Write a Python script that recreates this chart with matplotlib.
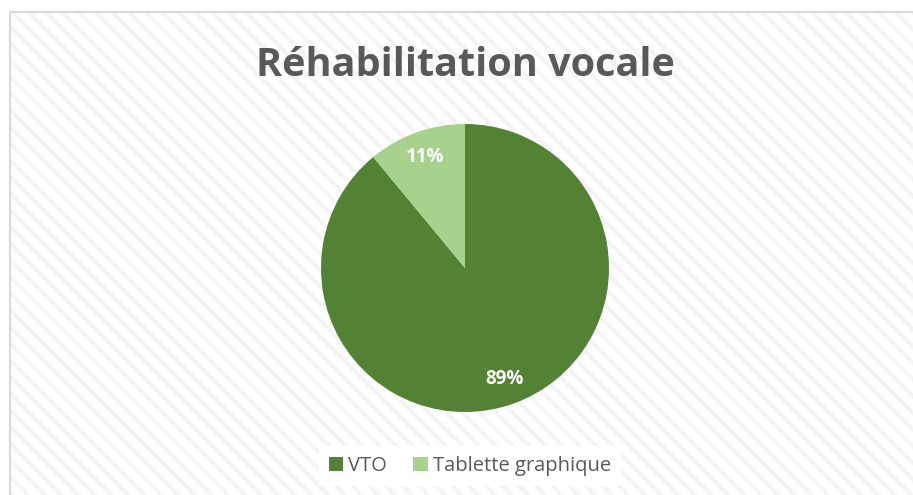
import matplotlib.pyplot as plt
from matplotlib.patches import Rectangle, Patch

labels = ["VTO", "Tablette graphique"]
values = [89, 11]
colors = ["#548235", "#A9D18E"]
title = "Réhabilitation vocale"

plt.rcParams['font.family'] = ['Open Sans', 'DejaVu Sans']
plt.rcParams['hatch.linewidth'] = 3

fig = plt.figure(figsize=(9.13, 4.95), dpi=100)
W, H = 913, 495

# fond hachuré + bordure
fig.patches.append(Rectangle((10 / W, 0), 1, 1 - 12 / H, transform=fig.transFigure,
                             facecolor="white", edgecolor="#F4F4F4", hatch="\\\\",
                             linewidth=0, zorder=-2))
fig.patches.append(Rectangle((10 / W, -0.1), 1, 1.1 - 12 / H, transform=fig.transFigure,
                             facecolor="none", edgecolor="#D9D9D9", linewidth=1.5, zorder=-1))

ax = fig.add_axes([(465 - 144) / W, (H - 268 - 144) / H, 288 / W, 288 / H])
ax.set_zorder(3)
ax.patch.set_visible(False)
wedges, texts, autotexts = ax.pie(values, colors=colors, startangle=90, counterclock=False,
                                  autopct="%d%%", pctdistance=0.82, radius=1,
                                  textprops=dict(color="white", fontsize=13.5, fontweight="bold"))
ax.set_xlim(-1, 1)
ax.set_ylim(-1, 1)
ax.set_aspect("equal")

fig.text(465 / W, 1 - 65 / H, title, ha="center", va="center", fontsize=28.5,
         fontweight="bold", color="#595959")

handles = [Patch(facecolor=c, edgecolor="none") for c in colors]
leg = fig.legend(handles, labels, loc="center", bbox_to_anchor=(470 / W, 1 - 466 / H),
                 ncol=2, frameon=True, fancybox=False, fontsize=14.5, handlelength=0.7,
                 handleheight=0.7, handletextpad=0.25, columnspacing=1.3,
                 borderpad=0.5, labelcolor="#595959")
leg.get_frame().set_facecolor("white")
leg.get_frame().set_edgecolor("none")
leg.get_frame().set_alpha(1)
leg.set_zorder(4)

fig.savefig("out.png", dpi=100)
